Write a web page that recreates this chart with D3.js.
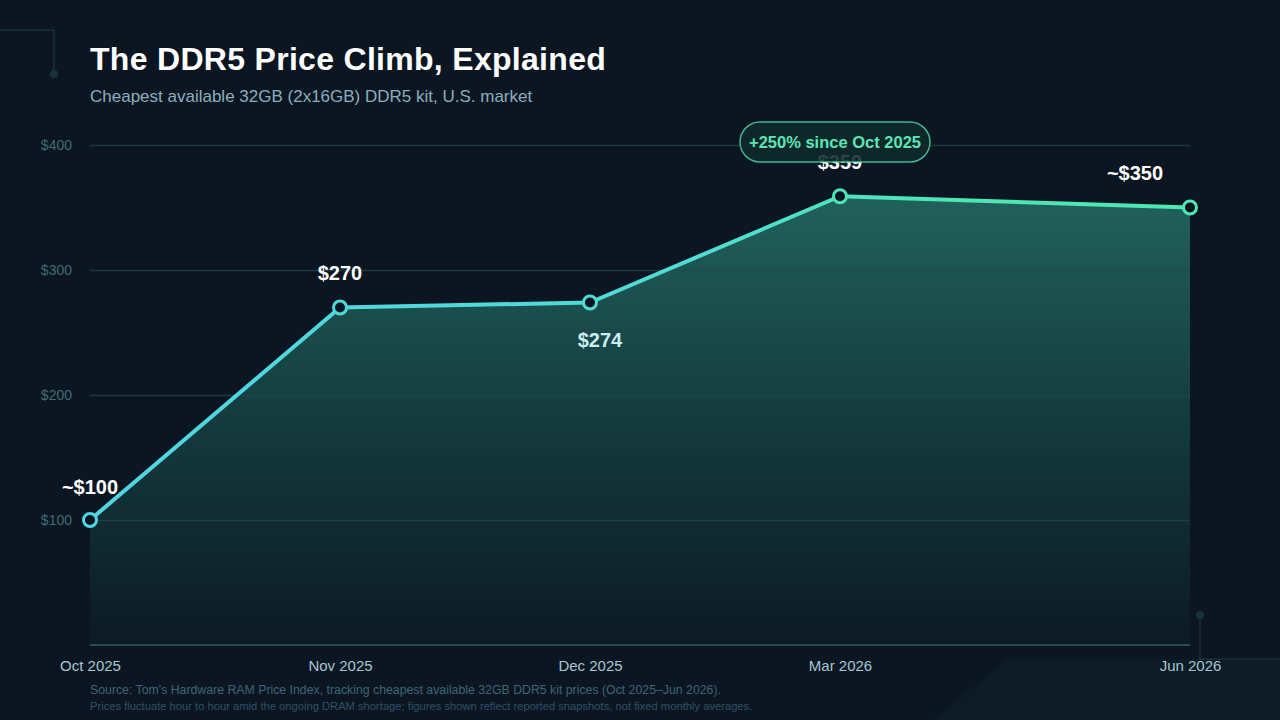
<!DOCTYPE html>
<html>
<head>
<meta charset="utf-8">
<script src="https://cdn.jsdelivr.net/npm/d3@7"></script>
<style>
  html, body { margin: 0; padding: 0; background: #0b1622; }
  svg { display: block; font-family: "Liberation Sans", Arial, sans-serif; }
</style>
</head>
<body>
<svg id="chart" width="1280" height="720"></svg>
<script>
// data
var months = ["Oct 2025", "Nov 2025", "Dec 2025", "Mar 2026", "Jun 2026"];
var slots = [0, 1, 2, 3, 4.4];          // spacing of the periods along the axis
var prices = [100, 270, 274, 359, 350];
var priceLabels = ["~$100", "$270", "$274", "$359", "~$350"];
var yTicks = [100, 200, 300, 400];

var margin = {top: 145, right: 90, bottom: 75, left: 90},
    width = 1280 - margin.left - margin.right,
    height = 720 - margin.top - margin.bottom;

var svg = d3.select("#chart");

var xScale = d3.scaleLinear()
  .domain([0, d3.max(slots)])
  .range([0, width]);

var yScale = d3.scaleLinear()
  .domain([0, 400])
  .range([height, 0]);

var data = months.map(function(m, i) {
  return {month: m, slot: slots[i], price: prices[i], label: priceLabels[i]};
});

var defs = svg.append("defs");

var areaGrad = defs.append("linearGradient")
  .attr("id", "areaGrad")
  .attr("x1", 0).attr("y1", 0).attr("x2", 0).attr("y2", 1);
areaGrad.append("stop").attr("offset", "0%").attr("stop-color", "#21615b");
areaGrad.append("stop").attr("offset", "55%").attr("stop-color", "#13373b");
areaGrad.append("stop").attr("offset", "100%").attr("stop-color", "#0c1a24");

var lineGrad = defs.append("linearGradient")
  .attr("id", "lineGrad")
  .attr("gradientUnits", "userSpaceOnUse")
  .attr("x1", margin.left).attr("y1", 0)
  .attr("x2", margin.left + width).attr("y2", 0);
lineGrad.append("stop").attr("offset", "0%").attr("stop-color", "#4fd6e2");
lineGrad.append("stop").attr("offset", "45%").attr("stop-color", "#4fdcd6");
lineGrad.append("stop").attr("offset", "70%").attr("stop-color", "#4ee6b4");
lineGrad.append("stop").attr("offset", "100%").attr("stop-color", "#4ee8b0");

var dotColor = d3.scaleLinear()
  .domain([0, 0.45, 0.7, 1])
  .range(["#4fd6e2", "#4fdcd6", "#4ee6b4", "#4ee8b0"]);

// background decorations
var deco = svg.append("g");
deco.append("path")
  .attr("d", "M933,720 L1007,659 L1280,659 L1280,720 Z")
  .attr("fill", "#0d1b27");
deco.append("path")
  .attr("d", "M0,30 L54,30 L54,74")
  .attr("fill", "none")
  .attr("stroke", "#17323a")
  .attr("stroke-width", 1.5);
deco.append("circle").attr("cx", 54).attr("cy", 74).attr("r", 4).attr("fill", "#17323a");
deco.append("path")
  .attr("d", "M1200,615 L1200,659 L1280,659")
  .attr("fill", "none")
  .attr("stroke", "#17323a")
  .attr("stroke-width", 1.5);
deco.append("circle").attr("cx", 1200).attr("cy", 615).attr("r", 4).attr("fill", "#17323a");

// titles
svg.append("text")
  .attr("x", 90).attr("y", 70)
  .attr("fill", "#ffffff")
  .style("font-size", "32px")
  .style("font-weight", "bold")
  .style("letter-spacing", "0.3px")
  .text("The DDR5 Price Climb, Explained");

svg.append("text")
  .attr("x", 90).attr("y", 102)
  .attr("fill", "#8aaebd")
  .style("font-size", "17px")
  .text("Cheapest available 32GB (2x16GB) DDR5 kit, U.S. market");

var g = svg.append("g")
  .attr("transform", "translate(" + margin.left + "," + margin.top + ")");

// area
var area = d3.area()
  .x(function(d) { return xScale(d.slot); })
  .y0(height)
  .y1(function(d) { return yScale(d.price); });

g.append("path")
  .datum(data)
  .attr("d", area)
  .attr("fill", "url(#areaGrad)");

// grid
var yAxis = g.append("g")
  .attr("class", "axis y--axis")
  .call(d3.axisLeft(yScale)
    .tickValues(yTicks)
    .tickSize(-width)
    .tickPadding(18)
    .tickFormat(function(d) { return "$" + d; }));
yAxis.select(".domain").remove();
yAxis.selectAll(".tick line")
  .attr("stroke", "#1d4a4d")
  .attr("stroke-opacity", 0.75)
  .attr("stroke-width", 1.5);
yAxis.selectAll(".tick text")
  .attr("fill", "#3e6d74")
  .style("font-size", "14px")
  .style("font-family", "Liberation Sans, Arial, sans-serif");

// baseline
g.append("line")
  .attr("x1", 0).attr("x2", width)
  .attr("y1", height).attr("y2", height)
  .attr("stroke", "#2b4b54")
  .attr("stroke-width", 2);

var xAxis = g.append("g")
  .attr("class", "axis x--axis")
  .attr("transform", "translate(0," + height + ")")
  .call(d3.axisBottom(xScale)
    .tickValues(slots)
    .tickSize(0)
    .tickPadding(15)
    .tickFormat(function(d, i) { return months[i]; }));
xAxis.select(".domain").remove();
xAxis.selectAll(".tick text")
  .attr("fill", "#a6c7d2")
  .style("font-size", "15px")
  .style("font-family", "Liberation Sans, Arial, sans-serif");

// line
var line = d3.line()
  .x(function(d) { return xScale(d.slot); })
  .y(function(d) { return yScale(d.price); });

g.append("path")
  .datum(data)
  .attr("d", line)
  .attr("fill", "none")
  .attr("stroke", "url(#lineGrad)")
  .attr("stroke-width", 4)
  .attr("stroke-linejoin", "round");

g.selectAll(".dot")
  .data(data)
  .enter()
  .append("circle")
  .attr("class", "dot")
  .attr("cx", function(d) { return xScale(d.slot); })
  .attr("cy", function(d) { return yScale(d.price); })
  .attr("r", 6.5)
  .attr("fill", "#0b1622")
  .attr("stroke", function(d) { return dotColor(xScale(d.slot) / width); })
  .attr("stroke-width", 3);

// value labels
var labelPos = [
  {dx: 0, dy: -26, color: "#ffffff"},
  {dx: 0, dy: -28, color: "#ffffff"},
  {dx: 10, dy: 44, color: "#cbeef2"},
  {dx: 0, dy: -27, color: "#ffffff"},
  {dx: -55, dy: -28, color: "#ffffff"}
];

g.selectAll(".vlabel")
  .data(data)
  .enter()
  .append("text")
  .attr("class", "vlabel")
  .attr("x", function(d, i) { return xScale(d.slot) + labelPos[i].dx; })
  .attr("y", function(d, i) { return yScale(d.price) + labelPos[i].dy; })
  .attr("text-anchor", "middle")
  .attr("fill", function(d, i) { return labelPos[i].color; })
  .style("font-size", "20px")
  .style("font-weight", "bold")
  .text(function(d) { return d.label; });

// annotation pill
var peak = data[3];
var pill = g.append("g")
  .attr("transform", "translate(" + (xScale(peak.slot) - 5) + "," + (yScale(400) - 3) + ")");
pill.append("rect")
  .attr("x", -95).attr("y", -20)
  .attr("width", 190).attr("height", 40)
  .attr("rx", 20).attr("ry", 20)
  .attr("fill", "#0f2a2b")
  .attr("fill-opacity", 0.88)
  .attr("stroke", "#4fd9a8")
  .attr("stroke-opacity", 0.8)
  .attr("stroke-width", 1.5);
pill.append("text")
  .attr("x", 0).attr("y", 6)
  .attr("text-anchor", "middle")
  .attr("fill", "#5ce6b6")
  .style("font-size", "16.5px")
  .style("font-weight", "bold")
  .text("+250% since " + months[0]);

// footnotes
svg.append("text")
  .attr("x", 90).attr("y", 694)
  .attr("fill", "#3c6677")
  .style("font-size", "12.3px")
  .text("Source: Tom's Hardware RAM Price Index, tracking cheapest available 32GB DDR5 kit prices (Oct 2025\u2013Jun 2026).");

svg.append("text")
  .attr("x", 90).attr("y", 710)
  .attr("fill", "#2c5264")
  .style("font-size", "11.2px")
  .text("Prices fluctuate hour to hour amid the ongoing DRAM shortage; figures shown reflect reported snapshots, not fixed monthly averages.");
</script>
</body>
</html>
